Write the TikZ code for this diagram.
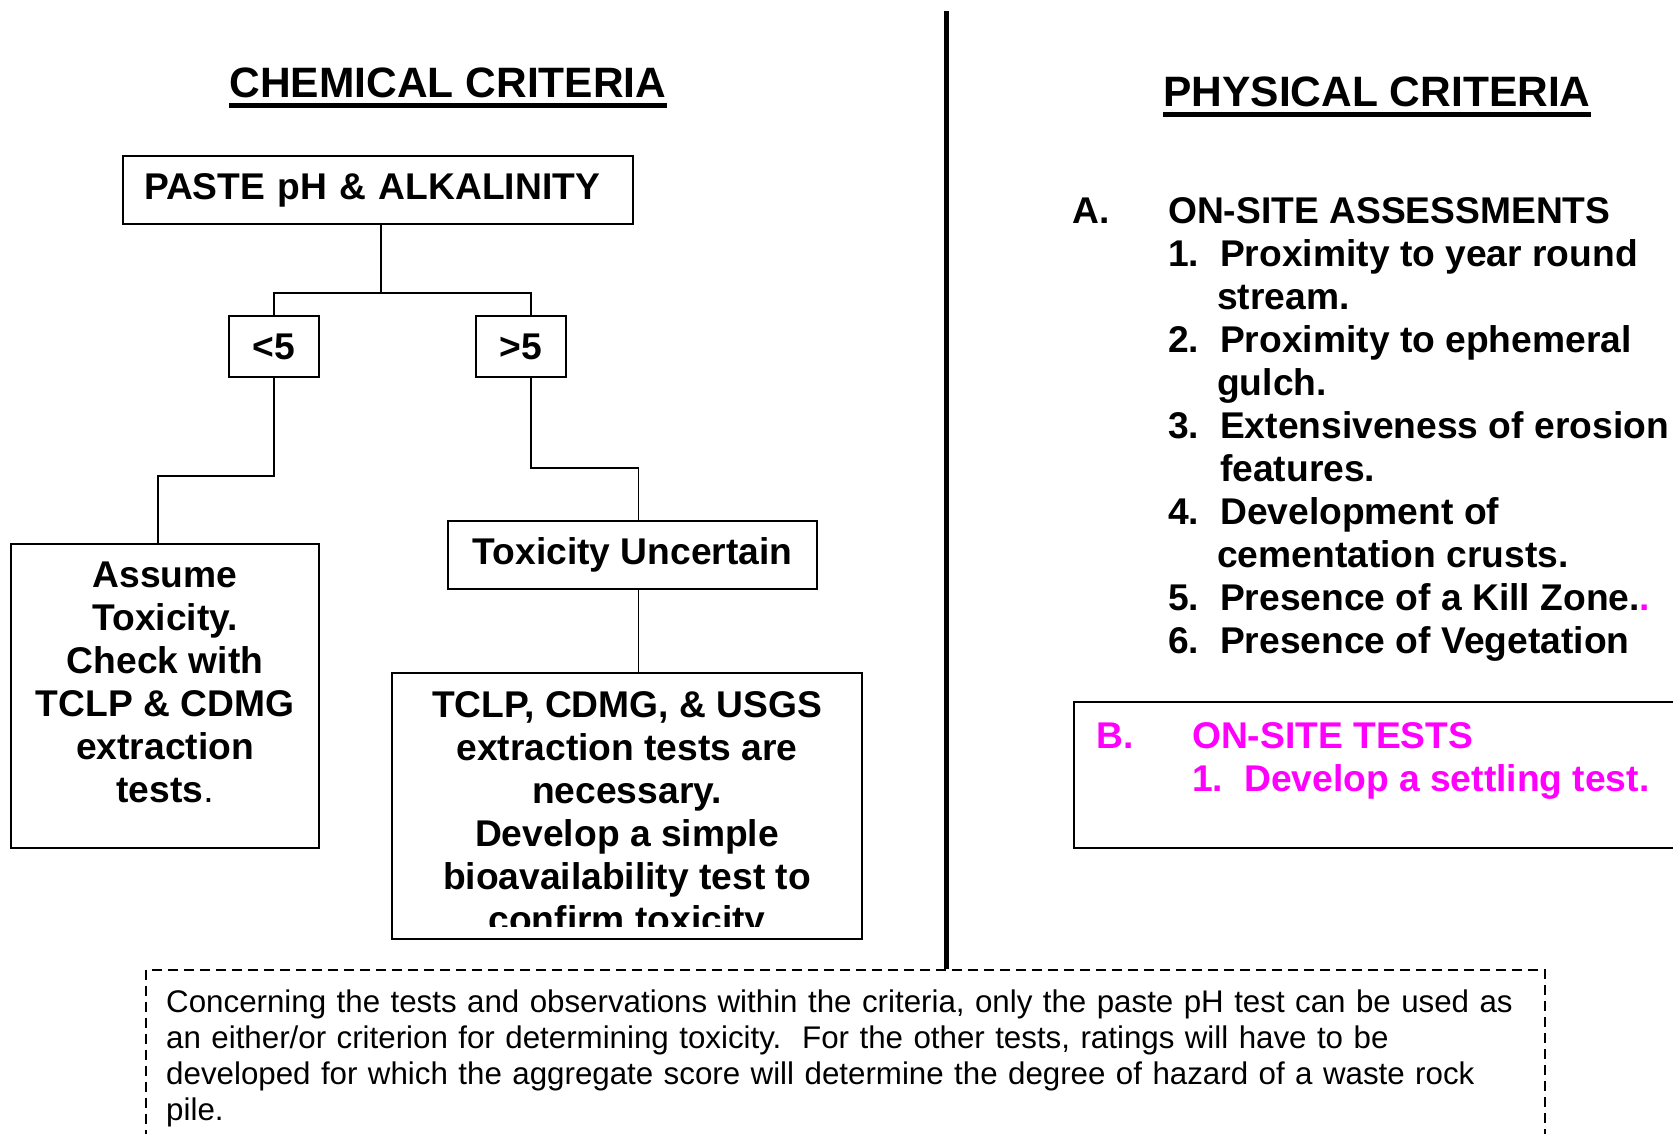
\documentclass[tikz,border=0pt]{standalone}
\usepackage{fontspec}
\setmainfont{Liberation Sans}
\usepackage{xcolor}
\usepackage{array}

\definecolor{pink}{RGB}{255,0,255}

\tikzset{
  box/.style={draw, line width=1.8pt, inner sep=0pt},
  link/.style={line width=1.5pt},
  boxfont/.style={font=\fontsize{37.2}{43}\selectfont\bfseries, inner sep=0pt},
  titlefont/.style={font=\fontsize{42.5}{48}\selectfont\bfseries, inner sep=0pt},
  notefont/.style={font=\fontsize{31.3}{36.3}\selectfont, inner sep=0pt}
}

\begin{document}
\begin{tikzpicture}[x=1pt,y=-1pt]
  \useasboundingbox (0,0) rectangle (1673,1133);

  \node[titlefont, anchor=base] (chem) at (448,97) {CHEMICAL CRITERIA};
  \draw[line width=5pt] ([yshift=-8pt]chem.base west) -- ([yshift=-8pt]chem.base east);
  \node[titlefont, anchor=base] (phys) at (1377,106) {PHYSICAL CRITERIA};
  \draw[line width=5pt] ([yshift=-8pt]phys.base west) -- ([yshift=-8pt]phys.base east);

  \node[box, boxfont, minimum width=510pt, minimum height=68pt, text width=468pt, align=left] (paste) at (378,190) {PASTE pH \& ALKALINITY};
  \node[box, boxfont, minimum width=90pt, minimum height=61pt] (lt) at (274,346.5) {<5};
  \node[box, boxfont, minimum width=90pt, minimum height=61pt] (gt) at (521,346.5) {>5};
  \node[box, minimum width=308pt, minimum height=304pt] (assume) at (165,696) {};
  \node[boxfont, align=center, anchor=north] (assumetxt) at ([yshift=-19pt]assume.north)
    {Assume\\Toxicity.\\Check with\\TCLP \& CDMG\\extraction\\tests{\mdseries .}};
  \node[box, boxfont, minimum width=369pt, minimum height=68pt] (tox) at (632.5,555) {Toxicity Uncertain};
  \node[box, minimum width=470pt, minimum height=266pt] (tclp) at (627,806) {};
  \begin{scope}
    \clip (tclp.north west) rectangle ([yshift=13pt]tclp.south east);
    \node[boxfont, align=center, anchor=north] (tclptxt) at ([yshift=-19pt]tclp.north)
      {TCLP, CDMG, \& USGS\\extraction tests are\\necessary.\\Develop a simple\\bioavailability test to\\confirm toxicity};
  \end{scope}

  \draw[link] ([xshift=3pt]paste.south) -- ++(0,68) -| (lt.north);
  \draw[link] ([xshift=3pt]paste.south) -- ++(0,68) -| ([xshift=10pt]gt.north);
  \draw[link] (lt.south) -- ++(0,98) -| ([xshift=-7pt]assume.north);
  \draw[link] ([xshift=10pt]gt.south) -- ++(0,90) -| ([xshift=6pt]tox.north);
  \draw[link] ([xshift=6pt]tox.south) -- ([xshift=6pt]tox.south |- tclp.north);

  \node[boxfont, anchor=base west] (assess) at (1072,223)
    {\begin{tabular}[t]{@{}p{96pt}@{}p{52pt}@{}l@{}}
      A. & \multicolumn{2}{@{}l@{}}{ON-SITE ASSESSMENTS}\\
      & 1. & Proximity to year round\\
      & & \hspace{-3pt}stream.\\
      & 2. & Proximity to ephemeral\\
      & & \hspace{-3pt}gulch.\\
      & 3. & Extensiveness of erosion\\
      & & features.\\
      & 4. & Development of\\
      & & \hspace{-3pt}cementation crusts.\\
      & 5. & Presence of a Kill Zone.{\color{pink}.}\\
      & 6. & Presence of Vegetation
    \end{tabular}};

  \node[box, minimum width=626pt, minimum height=146pt] (tests) at (1387,775) {};
  \node[boxfont, text=pink, anchor=base west] (teststxt) at (1096,748)
    {\begin{tabular}[t]{@{}p{96pt}@{}p{52pt}@{}l@{}}
      B. & \multicolumn{2}{@{}l@{}}{ON-SITE TESTS}\\
      & 1. & Develop a settling test.
    \end{tabular}};

  \node[draw, line width=2pt, dash pattern=on 10pt off 6pt, minimum width=1399pt, minimum height=210pt] (note) at (845.5,1075) {};
  \node[notefont, anchor=base west, text width=1400pt, align=left] (notetxt) at (166,1012)
    {Concerning the tests and observations within the criteria, only the paste pH test can be used as\\
     an either/or criterion for determining toxicity.\ \ For the other tests, ratings will have to be\\
     developed for which the aggregate score will determine the degree of hazard of a waste rock\\
     pile.};

  \coordinate (divtop) at (946,11);
  \draw[line width=5pt] (divtop) -- (divtop |- note.north);
\end{tikzpicture}
\end{document}
